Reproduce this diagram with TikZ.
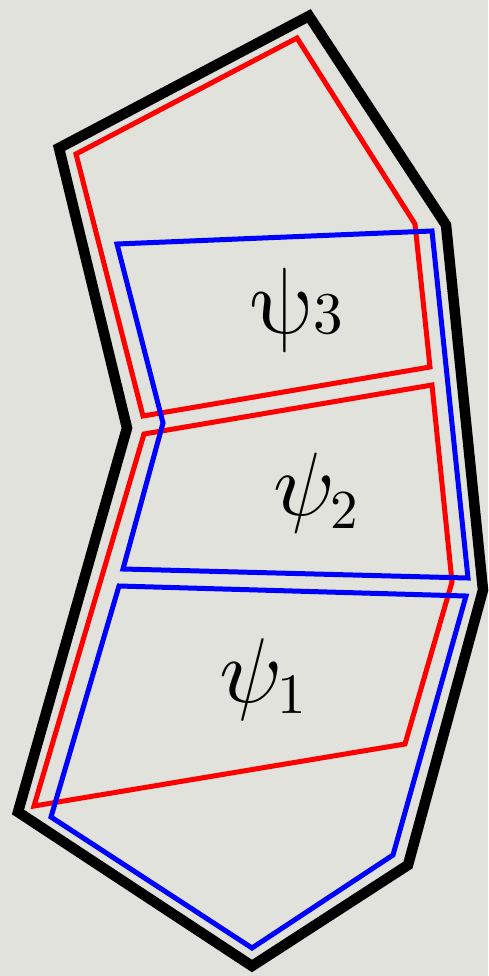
\documentclass[tikz,border=0pt]{standalone}
\usepackage{graphicx}
\begin{document}
\begin{tikzpicture}[x=1pt,y=-1pt,
  outline/.style={draw=black,line width=10.5pt,line join=miter},
  redpatch/.style={draw=red,line width=5pt,line join=miter},
  bluepatch/.style={draw=blue,line width=5pt,line join=miter},
  lbl/.style={anchor=base west,inner sep=0pt}]
\definecolor{bg}{RGB}{226,226,221}
\fill[bg] (0,0) rectangle (488,976);
\useasboundingbox (0,0) rectangle (488,976);
% outer boundary
\draw[outline] (309,16) -- (446,225) -- (483,590) -- (408,865) -- (252,966) -- (18,812) -- (127,428) -- (59,148) -- cycle;
% red patches
\draw[redpatch] (297,38) -- (415,224) -- (430,367) -- (143,416) -- (76,154) -- cycle;
\draw[redpatch] (144,434) -- (432,385) -- (452,582) -- (405,744) -- (34,806) -- cycle;
% blue patches
\draw[bluepatch] (117,244) -- (432,231) -- (468,578) -- (123,569) -- (163,423) -- cycle;
\draw[bluepatch] (119,586) -- (466,596) -- (393,855) -- (252,948) -- (51,817) -- cycle;
% labels
\begin{scope}[shift={(256,333.6)},xslant=-0.25]
  \node[lbl,transform shape] (p3) at (0,0) {\scalebox{9.4}{$\psi$}};
\end{scope}
\node[lbl] (s3) at (313,333) {\scalebox{5.9}{3}};
\node[lbl] (p2) at (273,515.5) {\scalebox{9.0}{$\psi$}};
\node[lbl] (s2) at (330,528) {\scalebox{5.5}{2}};
\node[lbl] (p1) at (219,702) {\scalebox{9.2}{$\psi$}};
\node[lbl] (s1) at (277,713) {\scalebox{5.7}{1}};
\end{tikzpicture}
\end{document}
